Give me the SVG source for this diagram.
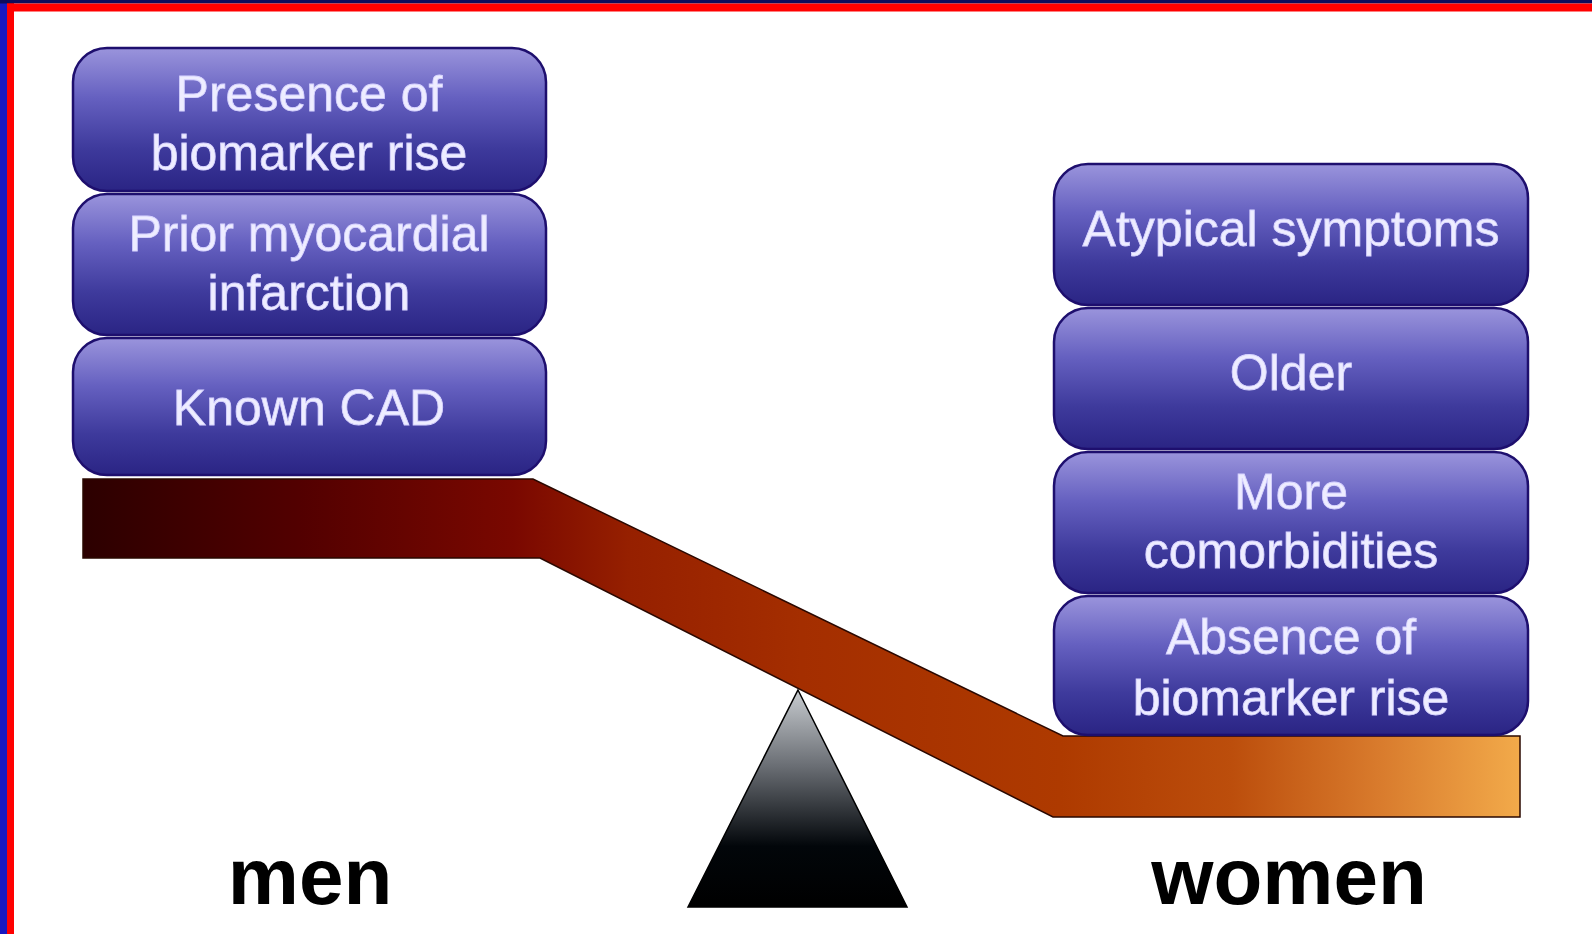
<svg xmlns="http://www.w3.org/2000/svg" width="1592" height="934" viewBox="0 0 1592 934">
  <defs>
    <style>
      .box { fill: url(#boxFill); stroke: #1e0f6e; stroke-width: 2.5; }
      .lbl { font-family: "Liberation Sans", Arial, sans-serif; font-size: 50px; fill: #eeedff; stroke: #d6d2ff; stroke-width: 0.8; text-anchor: middle; }
      .side { font-family: "Liberation Sans", Arial, sans-serif; font-size: 80px; font-weight: bold; fill: #000; text-anchor: middle; }
    </style>
    <linearGradient id="boxFill" x1="0" y1="0" x2="0" y2="1">
      <stop offset="0" stop-color="#9a94dc"/>
      <stop offset="0.35" stop-color="#6560c0"/>
      <stop offset="0.7" stop-color="#3e3a9c"/>
      <stop offset="1" stop-color="#2a2484"/>
    </linearGradient>
    <linearGradient id="beamFill" gradientUnits="userSpaceOnUse" x1="83" y1="0" x2="1520" y2="0">
      <stop offset="0" stop-color="#2c0000"/>
      <stop offset="0.15" stop-color="#520000"/>
      <stop offset="0.3" stop-color="#7a0800"/>
      <stop offset="0.38" stop-color="#962000"/>
      <stop offset="0.5" stop-color="#a42e00"/>
      <stop offset="0.68" stop-color="#ae3a00"/>
      <stop offset="0.8" stop-color="#bc4e0c"/>
      <stop offset="0.9" stop-color="#d87a2c"/>
      <stop offset="1" stop-color="#f2aa4a"/>
    </linearGradient>
    <linearGradient id="baseFill" x1="0" y1="0" x2="0" y2="1">
      <stop offset="0" stop-color="#c8ccd0"/>
      <stop offset="0.35" stop-color="#6a6e74"/>
      <stop offset="0.72" stop-color="#02060a"/>
      <stop offset="1" stop-color="#000"/>
    </linearGradient>
  </defs>

  <!-- page and frame -->
  <rect width="1592" height="934" fill="#fff"/>
  <rect x="0" y="0" width="7" height="934" fill="#1818c0"/>
  <rect x="7" y="0" width="7" height="934" fill="#ff0000"/>
  <rect x="0" y="0" width="1592" height="3.5" fill="#0c0c5c"/>
  <rect x="7" y="3.5" width="1585" height="8" fill="#ff0000"/>

  <!-- seesaw beam and fulcrum -->
  <g id="connectors">
    <polygon points="83,479 533,479 1063,736 1520,736 1520,817 1053,817 540,558 83,558" fill="url(#beamFill)" stroke="#2a0800" stroke-width="1.5"/>
    <polygon points="798,690 907,907 688,907" fill="url(#baseFill)" stroke="#000" stroke-width="1.5"/>
  </g>

  <!-- left pan: men -->
  <g id="presence-biomarker">
    <rect class="box" x="73" y="48" width="473" height="143" rx="34"/>
    <text class="lbl" x="309" y="111">Presence of</text>
    <text class="lbl" x="309" y="170">biomarker rise</text>
  </g>
  <g id="prior-mi">
    <rect class="box" x="73" y="194" width="473" height="141" rx="34"/>
    <text class="lbl" x="309" y="251">Prior myocardial</text>
    <text class="lbl" x="309" y="310">infarction</text>
  </g>
  <g id="known-cad">
    <rect class="box" x="73" y="338" width="473" height="137" rx="34"/>
    <text class="lbl" x="309" y="425">Known CAD</text>
  </g>

  <!-- right pan: women -->
  <g id="atypical-symptoms">
    <rect class="box" x="1054" y="164" width="474" height="141" rx="34"/>
    <text class="lbl" x="1291" y="246">Atypical symptoms</text>
  </g>
  <g id="older">
    <rect class="box" x="1054" y="308" width="474" height="141" rx="34"/>
    <text class="lbl" x="1291" y="390">Older</text>
  </g>
  <g id="comorbidities">
    <rect class="box" x="1054" y="452" width="474" height="141" rx="34"/>
    <text class="lbl" x="1291" y="509">More</text>
    <text class="lbl" x="1291" y="568">comorbidities</text>
  </g>
  <g id="absence-biomarker">
    <rect class="box" x="1054" y="596" width="474" height="139" rx="34"/>
    <text class="lbl" x="1291" y="654">Absence of</text>
    <text class="lbl" x="1291" y="715">biomarker rise</text>
  </g>

  <!-- side labels -->
  <g id="label-men">
    <text class="side" x="310" y="904">men</text>
  </g>
  <g id="label-women">
    <text class="side" x="1289" y="904">women</text>
  </g>
</svg>
